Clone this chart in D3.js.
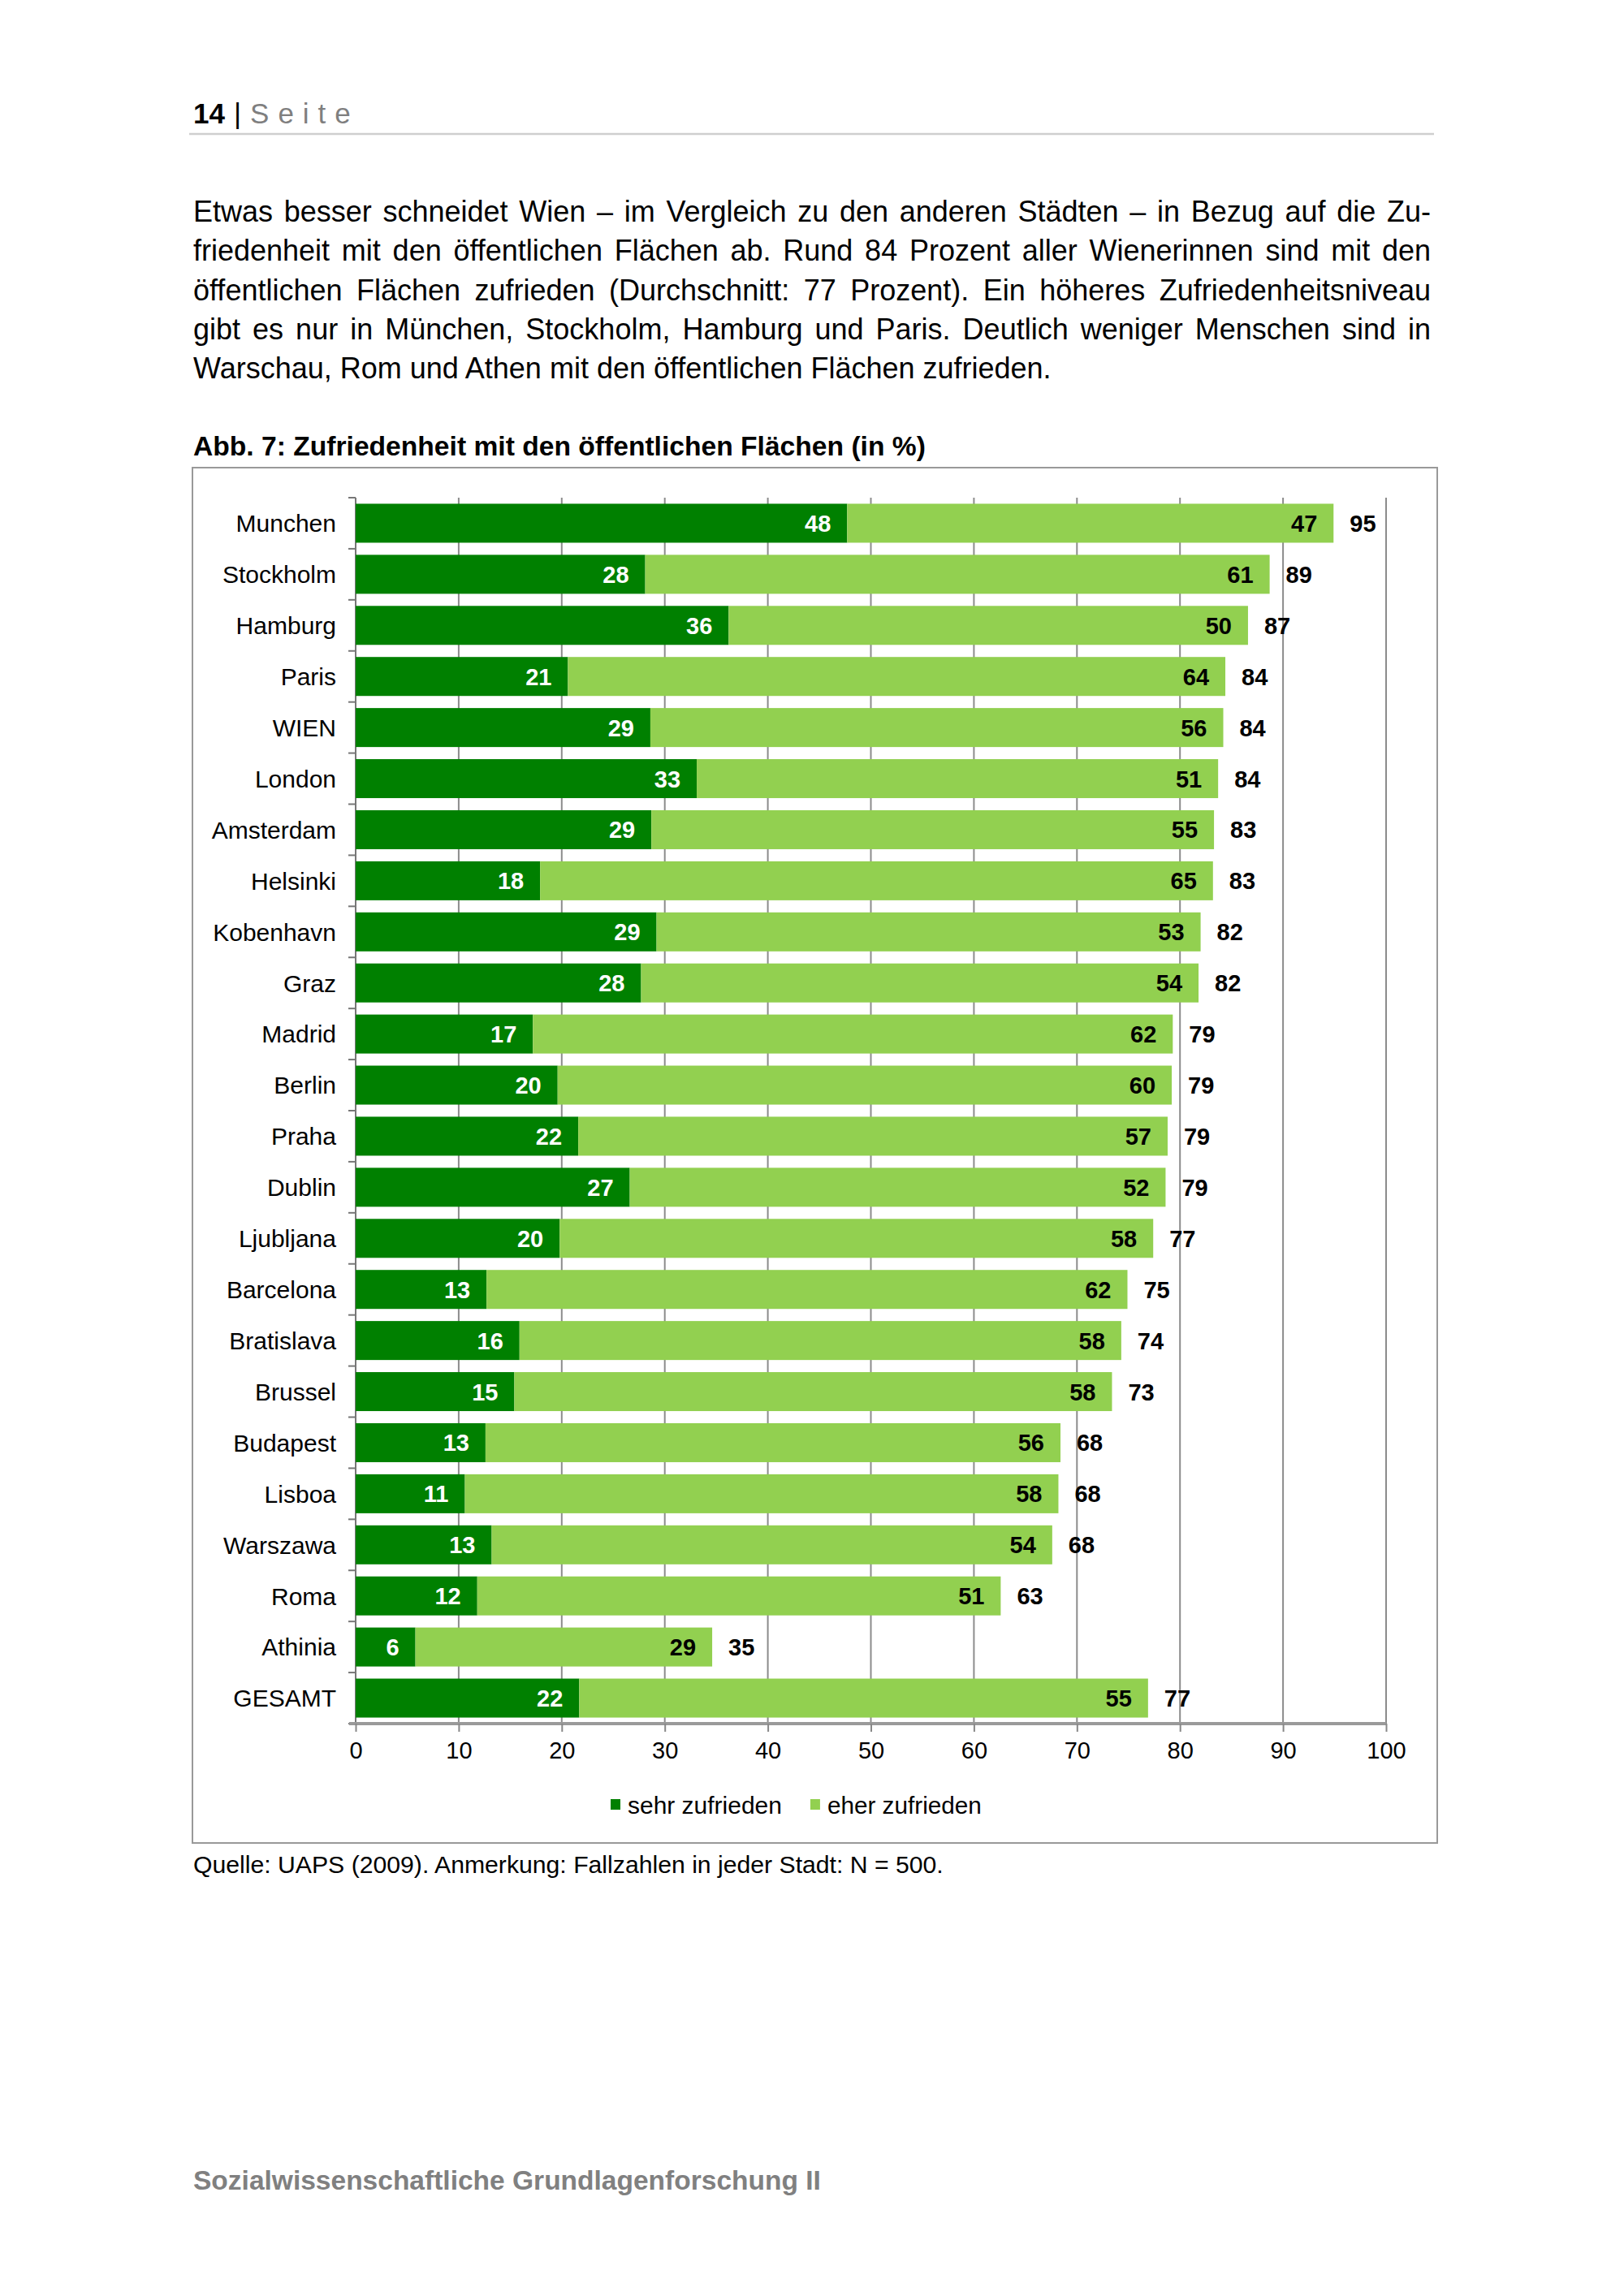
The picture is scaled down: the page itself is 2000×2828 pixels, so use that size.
<!DOCTYPE html>
<html>
<head>
<meta charset="utf-8">
<script src="https://cdn.jsdelivr.net/npm/d3@7"></script>
<style>
  body { margin: 0; background: #fff; }
  svg { display: block; }
  text { font-family: "Liberation Sans", Arial, Helvetica, sans-serif; }
</style>
</head>
<body>
<svg id="page"></svg>
<script>
// ---- data (Abb. 7)
var cities = ["Munchen", "Stockholm", "Hamburg", "Paris", "WIEN", "London", "Amsterdam",
  "Helsinki", "Kobenhavn", "Graz", "Madrid", "Berlin", "Praha", "Dublin", "Ljubljana",
  "Barcelona", "Bratislava", "Brussel", "Budapest", "Lisboa", "Warszawa", "Roma",
  "Athinia", "GESAMT"];
var sehr = [47.7, 28.1, 36.2, 20.6, 28.6, 33.1, 28.7, 17.9, 29.2, 27.7, 17.2, 19.6,
  21.6, 26.6, 19.8, 12.7, 15.9, 15.4, 12.6, 10.6, 13.2, 11.8, 5.8, 21.7];
var eher = [47.2, 60.6, 50.4, 63.8, 55.6, 50.6, 54.6, 65.3, 52.8, 54.1, 62.1, 59.6,
  57.2, 52.0, 57.6, 62.2, 58.4, 58.0, 55.8, 57.6, 54.4, 50.8, 28.8, 55.2];
var xTicks = [0, 10, 20, 30, 40, 50, 60, 70, 80, 90, 100];
var seriesKeys = ["sehr", "eher"];
var seriesNames = ["sehr zufrieden", "eher zufrieden"];
var seriesColors = ["#008000", "#92d050"];

var paragraph = [
  "Etwas besser schneidet Wien – im Vergleich zu den anderen Städten – in Bezug auf die Zu-",
  "friedenheit mit den öffentlichen Flächen ab. Rund 84 Prozent aller Wienerinnen sind mit den",
  "öffentlichen Flächen zufrieden (Durchschnitt: 77 Prozent). Ein höheres Zufriedenheitsniveau",
  "gibt es nur in München, Stockholm, Hamburg und Paris. Deutlich weniger Menschen sind in",
  "Warschau, Rom und Athen mit den öffentlichen Flächen zufrieden."
];
var chartTitle = "Abb. 7: Zufriedenheit mit den öffentlichen Flächen (in %)";
var sourceNote = "Quelle: UAPS (2009). Anmerkung: Fallzahlen in jeder Stadt: N = 500.";
var footer = "Sozialwissenschaftliche Grundlagenforschung II";

// ---- page
var W = 2000, H = 2828;
var svg = d3.select("#page").attr("width", W).attr("height", H);
svg.append("rect").attr("width", W).attr("height", H).attr("fill", "#fff");

var textLeft = 238, textRight = 1762;

// scale a text's font size so that it spans the given width
function fitWidth(t, target) {
  var w = t.node().getComputedTextLength();
  t.attr("font-size", +t.attr("font-size") * target / w);
}

// header "14 | Seite"
var head = svg.append("text").attr("x", textLeft).attr("y", 152).attr("font-size", 35);
head.append("tspan").attr("font-weight", "bold").attr("fill", "#000").text("14");
head.append("tspan").attr("fill", "#000").attr("dx", 11).text("|");
head.append("tspan").attr("fill", "#7f7f7f").attr("dx", 11)
  .attr("letter-spacing", 11).text("Seite");

svg.append("line")
  .attr("x1", 233).attr("x2", 1766).attr("y1", 165).attr("y2", 165)
  .attr("stroke", "#cfcfcf").attr("stroke-width", 2.5);

// paragraph, justified line by line (last line left aligned)
paragraph.forEach(function(line, i) {
  var t = svg.append("text")
    .attr("x", textLeft).attr("y", 273 + i * 48.3)
    .attr("font-size", 36).attr("fill", "#000")
    .text(line);
  if (i < paragraph.length - 1) {
    var w = t.node().getComputedTextLength();
    var spaces = line.split(" ").length - 1;
    t.attr("word-spacing", (textRight - textLeft - w) / spaces);
  }
});

// chart title
var title = svg.append("text")
  .attr("x", textLeft).attr("y", 561)
  .attr("font-size", 34).attr("font-weight", "bold")
  .text(chartTitle);
fitWidth(title, 902);

// chart frame
svg.append("rect")
  .attr("x", 237).attr("y", 576).attr("width", 1533).attr("height", 1694)
  .attr("fill", "none").attr("stroke", "#999").attr("stroke-width", 2);

// ---- chart
var x = d3.scaleLinear().domain([0, 100]).range([438, 1707]);
var y = d3.scaleBand().domain(cities).range([613, 2123])
  .paddingInner(0.237).paddingOuter(0.1185);

var table = cities.map(function(c, i) {
  return {city: c, sehr: sehr[i], eher: eher[i]};
});
var stacked = d3.stack().keys(seriesKeys)(table);

// vertical gridlines
svg.append("g").attr("class", "grid")
  .selectAll("line")
  .data(xTicks.filter(function(d) { return d > 0; }))
  .enter().append("line")
  .attr("x1", function(d) { return x(d); })
  .attr("x2", function(d) { return x(d); })
  .attr("y1", y.range()[0]).attr("y2", y.range()[1])
  .attr("stroke", "#8c8c8c").attr("stroke-width", 2);

// left axis: line + ticks between categories
var leftAxis = svg.append("g").attr("class", "axis-left");
leftAxis.append("line")
  .attr("x1", x(0)).attr("x2", x(0))
  .attr("y1", y.range()[0]).attr("y2", y.range()[1])
  .attr("stroke", "#777").attr("stroke-width", 2);
var boundaries = d3.range(cities.length + 1).map(function(k) {
  return y.range()[0] + k * y.step();
});
leftAxis.selectAll("line.tick")
  .data(boundaries)
  .enter().append("line").attr("class", "tick")
  .attr("x1", x(0) - 9).attr("x2", x(0))
  .attr("y1", function(d) { return d; }).attr("y2", function(d) { return d; })
  .attr("stroke", "#777").attr("stroke-width", 2);

// bars
var layers = svg.append("g").attr("class", "bars")
  .selectAll("g")
  .data(stacked)
  .enter().append("g")
  .attr("fill", function(d, i) { return seriesColors[i]; });

layers.selectAll("rect")
  .data(function(d) { return d; })
  .enter().append("rect")
  .attr("x", function(d) { return x(d[0]); })
  .attr("y", function(d) { return y(d.data.city); })
  .attr("width", function(d) { return x(d[1]) - x(d[0]); })
  .attr("height", y.bandwidth());

// labels inside bars
layers.selectAll("text")
  .data(function(d) {
    return d.map(function(p) { return {p: p, key: d.key}; });
  })
  .enter().append("text")
  .attr("x", function(d) { return x(d.p[1]) - 20; })
  .attr("y", function(d) { return y(d.p.data.city) + y.bandwidth() / 2 + 10.5; })
  .attr("text-anchor", "end")
  .attr("font-size", 29).attr("font-weight", "bold")
  .attr("fill", function(d) { return d.key === "sehr" ? "#fff" : "#000"; })
  .text(function(d) { return Math.round(d.p.data[d.key]); });

// totals right of bars
svg.append("g").attr("class", "totals")
  .selectAll("text")
  .data(table)
  .enter().append("text")
  .attr("x", function(d) { return x(d.sehr + d.eher) + 20; })
  .attr("y", function(d) { return y(d.city) + y.bandwidth() / 2 + 10.5; })
  .attr("font-size", 29).attr("font-weight", "bold").attr("fill", "#000")
  .text(function(d) { return Math.round(d.sehr + d.eher); });

// category labels
svg.append("g").attr("class", "cat-labels")
  .selectAll("text")
  .data(cities)
  .enter().append("text")
  .attr("x", 414)
  .attr("y", function(d) { return y(d) + y.bandwidth() / 2 + 10.8; })
  .attr("text-anchor", "end")
  .attr("font-size", 30).attr("fill", "#000")
  .text(function(d) { return d; });

// bottom axis
var xAxis = svg.append("g")
  .attr("class", "axis-bottom")
  .attr("transform", "translate(0," + y.range()[1] + ")")
  .call(d3.axisBottom(x).tickValues(xTicks).tickSize(10).tickSizeOuter(0).tickPadding(12));
xAxis.select(".domain").remove();
xAxis.insert("line", ":first-child")
  .attr("x1", x(0) - 8).attr("x2", x(100))
  .attr("stroke", "#9a9a9a").attr("stroke-width", 4);
xAxis.selectAll(".tick line").attr("stroke", "#888").attr("stroke-width", 2);
xAxis.selectAll(".tick text")
  .attr("font-size", 29).attr("fill", "#000")
  .attr("font-family", "'Liberation Sans', Arial, sans-serif");

// legend
var legend = svg.append("g").attr("class", "legend")
  .attr("transform", "translate(752,2223)");
var lx = 0;
seriesNames.forEach(function(name, i) {
  var item = legend.append("g").attr("transform", "translate(" + lx + ",0)");
  item.append("rect")
    .attr("x", 0).attr("y", -7).attr("width", 12).attr("height", 13)
    .attr("fill", seriesColors[i]);
  var t = item.append("text")
    .attr("x", 21).attr("y", 10.5)
    .attr("font-size", 30).attr("fill", "#000")
    .text(name);
  fitWidth(t, 190);
  lx += 21 + t.node().getComputedTextLength() + 35;
});

// source note
var src = svg.append("text")
  .attr("x", textLeft).attr("y", 2307)
  .attr("font-size", 30).attr("fill", "#000")
  .text(sourceNote);
fitWidth(src, 924);

// footer
var foot = svg.append("text")
  .attr("x", textLeft).attr("y", 2697)
  .attr("font-size", 33).attr("font-weight", "bold").attr("fill", "#808080")
  .text(footer);
fitWidth(foot, 773);
</script>
</body>
</html>
